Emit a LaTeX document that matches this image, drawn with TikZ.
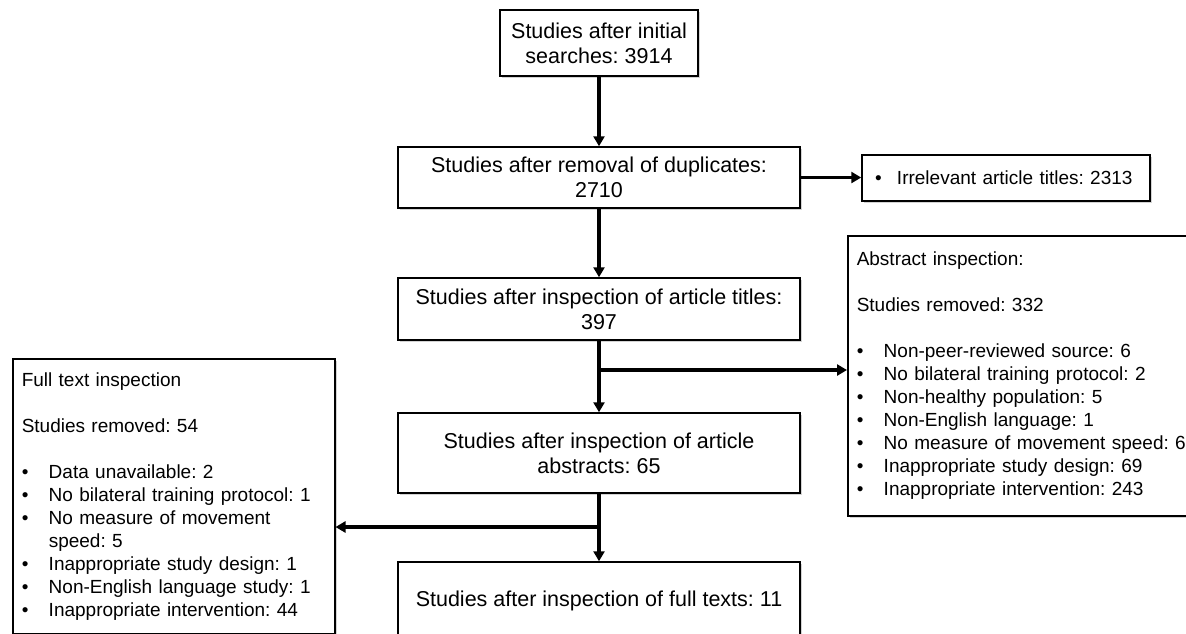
\documentclass[tikz,border=0pt]{standalone}
\usepackage{fontspec}
\setmainfont{Liberation Sans}
\usetikzlibrary{arrows.meta,shadows}
\newcommand{\bul}[1][27pt]{\makebox[#1][l]{•}}
\frenchspacing
\begin{document}
\begin{tikzpicture}[x=1pt,y=-1pt,
  box/.style={draw=black,line width=1.5pt,fill=white,align=center,
    font=\fontsize{21.5}{25}\selectfont\frenchspacing,inner sep=0pt,
    drop shadow={shadow xshift=1.8pt,shadow yshift=-1.8pt,opacity=0.35}},
  side/.style={box,align=left,font=\fontsize{19}{23}\selectfont\frenchspacing,inner xsep=9pt},
  flow/.style={line width=3.4pt,-{Triangle[length=10pt,width=11pt]}}]
\useasboundingbox (0,0) rectangle (1186,633);
\clip (0,0) rectangle (1186,633);

\node[box,minimum width=198pt,minimum height=66pt] (s1) at (599,43) {Studies after initial\\searches: 3914};
\node[box,minimum width=402pt,minimum height=61pt] (s2) at (599,177.5) {Studies after removal of duplicates:\\2710};
\node[box,minimum width=402pt,minimum height=62pt] (s3) at (599,309) {Studies after inspection of article titles:\\397};
\node[box,minimum width=402pt,minimum height=80pt] (s4) at (599,453) {Studies after inspection of article\\abstracts: 65};
\node[box,minimum width=402pt,minimum height=78pt] (s5) at (599,601) {Studies after inspection of full texts: 11};

\node[side,inner xsep=13pt,text width=262pt,minimum height=46pt] (irr) at (1006,178)
  {\bul[22pt]Irrelevant article titles: 2313};

\node[side,anchor=north west,text width=304pt,minimum height=275pt] (full) at (12,358)
  {Full text inspection\\[23pt]
   Studies removed: 54\\[23pt]
   \bul Data unavailable: 2\\
   \bul No bilateral training protocol: 1\\
   \bul No measure of movement\\
   \hspace*{27pt}speed: 5\\
   \bul Inappropriate study design: 1\\
   \bul Non-English language study: 1\\
   \bul Inappropriate intervention: 44};

\node[side,anchor=north west,text width=420pt,minimum height=280pt] (abs) at (847,235)
  {Abstract inspection:\\[23pt]
   Studies removed: 332\\[23pt]
   \bul Non-peer-reviewed source: 6\\
   \bul No bilateral training protocol: 2\\
   \bul Non-healthy population: 5\\
   \bul Non-English language: 1\\
   \bul No measure of movement speed: 6\\
   \bul Inappropriate study design: 69\\
   \bul Inappropriate intervention: 243};

\coordinate (b1) at (599,370);
\coordinate (b2) at (599,527);

\draw[flow] (s1.south) -- (s2.north);
\draw[flow] (s2.east) -- (s2.east -| irr.west);
\draw[flow] (s2.south) -- (s3.north);
\draw[flow] (s3.south) -- (s4.north);
\draw[flow] (b1) -- (b1 -| abs.west);
\draw[flow] (s4.south) -- (s5.north);
\draw[flow] (b2) -- (b2 -| full.east);
\end{tikzpicture}
\end{document}
